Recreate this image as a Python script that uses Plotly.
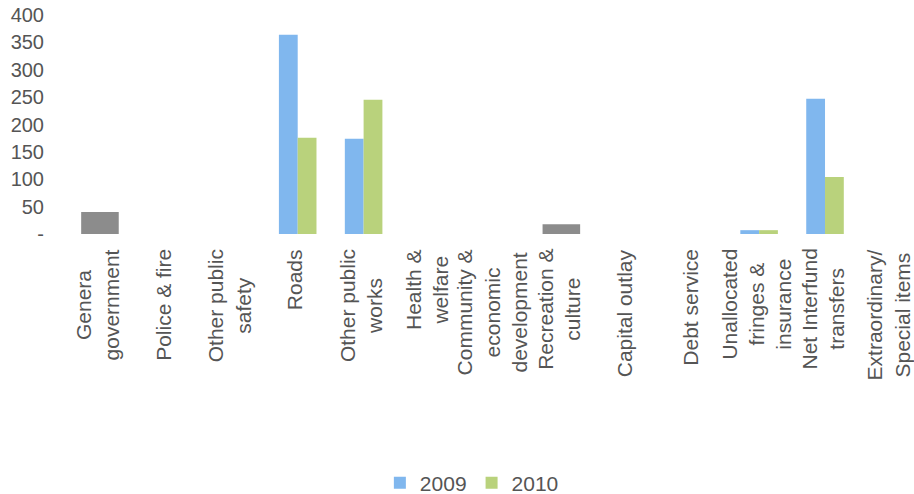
import plotly.graph_objects as go

categories = [
    "Genera<br>government",
    "Police & fire",
    "Other public<br>safety",
    "Roads",
    "Other public<br>works",
    "Health &<br>welfare",
    "Community &<br>economic<br>development",
    "Recreation &<br>culture",
    "Capital outlay",
    "Debt service",
    "Unallocated<br>fringes &<br>insurance",
    "Net Interfund<br>transfers",
    "Extraordinary/<br>Special items",
]
values_2009 = [0, 0, 0, 364, 174, 0, 0, 0, 0, 0, 7, 247, 0]
values_2010 = [0, 0, 0, 176, 245, 0, 0, 0, 0, 0, 7, 104, 0]
redacted = [40, 0, 0, 0, 0, 0, 0, 18, 0, 0, 0, 0, 0]

y_tickvals = [0, 50, 100, 150, 200, 250, 300, 350, 400]
y_ticktext = ["-", "50", "100", "150", "200", "250", "300", "350", "400"]

FONT = "Liberation Sans, Arial, sans-serif"
GRAY = "#555555"

fig = go.Figure()
fig.add_trace(go.Bar(x=categories, y=values_2009, name="2009",
                     marker=dict(color="#80B7EE", line=dict(width=0))))
fig.add_trace(go.Bar(x=categories, y=values_2010, name="2010",
                     marker=dict(color="#B9D27C", line=dict(width=0))))
fig.add_trace(go.Bar(x=categories, y=redacted, name="", showlegend=False,
                     xaxis="x2", marker=dict(color="#8C8C8C", line=dict(width=0))))

# category labels, rotated, lines centred, block hanging from the axis
for cat in categories:
    fig.add_annotation(x=cat, xref="x", y=0, yref="paper",
                       text=cat, showarrow=False, textangle=-90,
                       xanchor="center", yanchor="top", align="center",
                       yshift=-13, xshift=-3,
                       font=dict(size=21, color=GRAY, family=FONT))

xr = [-0.5, 12.35]
fig.update_layout(
    width=914, height=494,
    margin=dict(l=67, r=0, t=15, b=260, autoexpand=False),
    paper_bgcolor="white", plot_bgcolor="white",
    barmode="group", bargap=0.43, bargroupgap=0,
    hovermode=False,
    font=dict(family=FONT, color=GRAY, size=20),
    xaxis=dict(categoryorder="array", categoryarray=categories, range=xr,
               showticklabels=False, showgrid=False, showline=False,
               zeroline=False, automargin=False),
    xaxis2=dict(overlaying="x", categoryorder="array",
                categoryarray=categories, range=xr, visible=False),
    yaxis=dict(range=[0, 400], tickvals=y_tickvals, ticktext=y_ticktext,
               showgrid=False, showline=False, zeroline=False,
               automargin=False,
               ticks="outside", ticklen=18, tickcolor="rgba(0,0,0,0)",
               tickfont=dict(size=20, color=GRAY, family=FONT)),
    legend=dict(orientation="h", x=0.478, xanchor="center",
                yref="paper", y=-1.137, yanchor="middle",
                font=dict(size=21, color=GRAY, family=FONT),
                itemwidth=30, traceorder="normal"),
)

fig.write_html("out.html",
               config={"displayModeBar": False},
               post_script="document.body.style.margin='0';document.body.style.overflow='hidden';")
